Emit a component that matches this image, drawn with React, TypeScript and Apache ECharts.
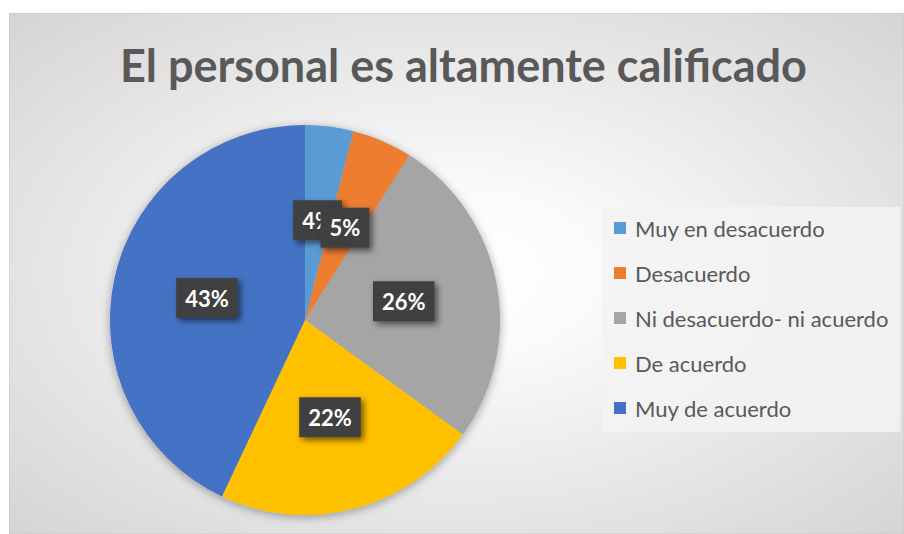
import React, { useEffect, useRef } from "react";
import * as echarts from "echarts";

const titleText = "El personal es altamente calificado";
const categories = [
  "Muy en desacuerdo",
  "Desacuerdo",
  "Ni desacuerdo- ni acuerdo",
  "De acuerdo",
  "Muy de acuerdo",
];
const percentages = [4, 5, 26, 22, 43];
const sliceColors = ["#5B9BD5", "#ED7D31", "#A5A5A5", "#FFC000", "#4472C4"];

const FONT = "Lato, 'Open Sans', sans-serif";

export default function App() {
  const ref = useRef<HTMLDivElement>(null);
  useEffect(() => {
    if (!ref.current) return;
    const chart = echarts.init(ref.current, undefined, { renderer: "svg" });
    const cx = 296;
    const cy = 307;
    const R = 195;
    chart.setOption({
      animation: false,
      backgroundColor: {
        type: "radial",
        x: 0.5,
        y: 0.5,
        r: 1.0,
        colorStops: [
          { offset: 0, color: "#ffffff" },
          { offset: 0.15, color: "#fbfbfb" },
          { offset: 1, color: "#c0c0c0" },
        ],
      },
      title: {
        text: titleText,
        left: 106,
        top: 24,
        textStyle: {
          fontFamily: FONT,
          fontSize: 45,
          fontWeight: "bold",
          color: "#595959",
        },
      },
      legend: {
        orient: "vertical",
        left: 593,
        top: 194,
        padding: [9, 12, 12, 12],
        backgroundColor: "rgba(243,243,243,0.9)",
        itemWidth: 12,
        itemHeight: 12,
        itemGap: 21,
        icon: "rect",
        data: categories,
        textStyle: {
          fontFamily: FONT,
          fontSize: 22,
          lineHeight: 24,
          color: "#595959",
          padding: [0, 0, 0, 4],
        },
      },
      graphic: [
        {
          type: "rect",
          shape: { x: 0, y: 0, width: 895, height: 521 },
          style: { fill: "none", stroke: "#c8c8c8", lineWidth: 1 },
          silent: true,
        },
        {
          type: "circle",
          shape: { cx, cy, r: R },
          style: {
            fill: "#bbbbbb",
            shadowBlur: 10,
            shadowColor: "rgba(0,0,0,0.35)",
            shadowOffsetX: 0,
            shadowOffsetY: 2,
          },
          silent: true,
          z: 0,
        },
      ],
      series: [
        {
          type: "pie",
          center: [cx, cy],
          radius: R,
          startAngle: 90,
          clockwise: true,
          z: 2,
          itemStyle: { borderWidth: 0 },
          labelLayout: { hideOverlap: false },
          label: {
            show: true,
            position: "inside",
            formatter: "{c}%",
            color: "#ffffff",
            fontFamily: FONT,
            fontWeight: "bold",
            fontSize: 22,
            lineHeight: 24,
            backgroundColor: "#404040",
            padding: [8, 9, 8, 9],
            shadowColor: "rgba(0,0,0,0.55)",
            shadowBlur: 6,
            shadowOffsetX: 3,
            shadowOffsetY: 3,
          },
          labelLine: { show: false },
          emphasis: { disabled: true },
          data: categories.map((name, i) => ({
            name,
            value: percentages[i],
            itemStyle: { color: sliceColors[i] },
          })),
        },
      ],
    });
    return () => chart.dispose();
  }, []);
  return (
    <div
      ref={ref}
      style={{
        position: "absolute",
        left: 9,
        top: 13,
        width: 895,
        height: 521,
      }}
    />
  );
}
